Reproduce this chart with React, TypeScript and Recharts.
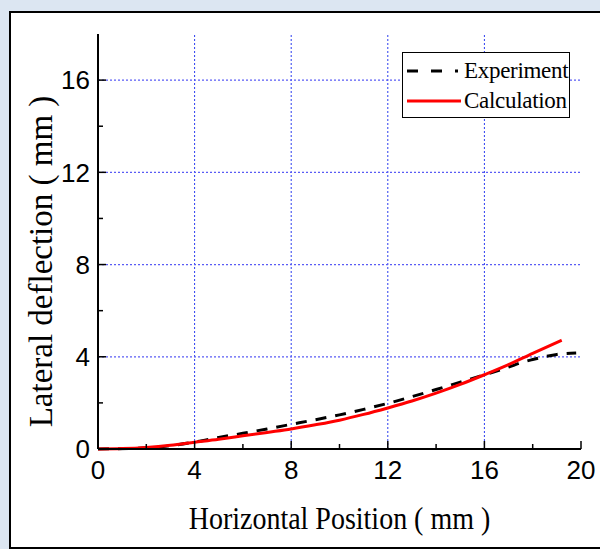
import React from 'react';
import { LineChart, Line, XAxis, YAxis, ReferenceLine, Legend } from 'recharts';

// calculation curve (red)
const calcX = [0, 1, 2, 3, 4, 5, 6, 7, 8, 9, 10, 11, 12, 13, 14, 15, 16, 17, 18, 19.2];
const calcY = [0, 0.02, 0.07, 0.16, 0.29, 0.42, 0.57, 0.72, 0.87, 1.05, 1.25, 1.5, 1.78, 2.08, 2.42, 2.8, 3.22, 3.66, 4.15, 4.72];

// experiment curve (black dashed)
const expX = [0, 2, 4, 5, 6, 7, 8, 9, 10, 11, 12, 13, 14, 15, 16, 17, 17.5, 18, 18.5, 19, 19.8];
const expY = [0, 0.05, 0.3, 0.5, 0.68, 0.87, 1.07, 1.27, 1.48, 1.72, 1.98, 2.27, 2.58, 2.9, 3.22, 3.55, 3.74, 3.88, 4.0, 4.1, 4.16];

const xTicks = [0, 2, 4, 6, 8, 10, 12, 14, 16, 18, 20];
const yTicks = [0, 2, 4, 6, 8, 10, 12, 14, 16, 18];
const gridX = [4, 8, 12, 16];
const gridY = [4, 8, 12, 16];

const calcData = calcX.map((x, i) => ({ x, y: calcY[i] }));
const expData = expX.map((x, i) => ({ x, y: expY[i] }));

const sans = '"Liberation Sans", Arial, sans-serif';
const serif = '"Liberation Serif", "Times New Roman", serif';

const isMajor = (v: number) => v % 4 === 0;

const BottomTick = (props: any) => {
  const { x, y, payload } = props;
  const major = isMajor(payload.value);
  return (
    <g>
      <line x1={x} y1={y} x2={x} y2={y - (major ? 8 : 5)} stroke="#000" strokeWidth={1.5} />
      {major && (
        <text x={x} y={y + 30} textAnchor="middle" fontFamily={sans} fontSize={26} fill="#000">
          {payload.value}
        </text>
      )}
    </g>
  );
};

const TopTick = (props: any) => {
  const { x, y, payload } = props;
  const major = isMajor(payload.value);
  return <line x1={x} y1={y} x2={x} y2={y + (major ? 8 : 5)} stroke="#000" strokeWidth={1.5} />;
};

const LeftTick = (props: any) => {
  const { x, y, payload } = props;
  if (payload.value > 16) return null;
  const major = isMajor(payload.value);
  return (
    <g>
      <line x1={x} y1={y} x2={x + (major ? 8 : 5)} y2={y} stroke="#000" strokeWidth={1.5} />
      {major && (
        <text x={x - 8} y={y} dy="0.36em" textAnchor="end" fontFamily={sans} fontSize={26} fill="#000">
          {payload.value}
        </text>
      )}
    </g>
  );
};

const RightTick = (props: any) => {
  const { x, y, payload } = props;
  if (payload.value > 16) return null;
  const major = isMajor(payload.value);
  return <line x1={x} y1={y} x2={x - (major ? 8 : 5)} y2={y} stroke="#000" strokeWidth={1.5} />;
};

const XTitle = (props: any) => {
  const { viewBox } = props;
  const cx = viewBox.x + viewBox.width / 2;
  const by = viewBox.y + viewBox.height - 20;
  return (
    <text
      x={0}
      y={0}
      transform={`translate(${cx}, ${by}) scale(1, 1.15)`}
      textAnchor="middle"
      fontFamily={serif}
      fontSize={28}
      fill="#000"
    >
      Horizontal Position ( mm )
    </text>
  );
};

const YTitle = (props: any) => {
  const { viewBox } = props;
  const cx = viewBox.x + 41;
  const cy = viewBox.y + viewBox.height / 2 + 20;
  return (
    <text
      x={cx}
      y={cy}
      transform={`rotate(-90, ${cx}, ${cy})`}
      textAnchor="middle"
      dominantBaseline="central"
      fontFamily={serif}
      fontSize={33}
      fill="#000"
    >
      Lateral deflection ( mm )
    </text>
  );
};

const LegendBox = () => (
  <div
    style={{
      width: 166,
      height: 64,
      border: '1px solid #000',
      background: '#fff',
      fontFamily: serif,
      fontSize: 23,
      color: '#000',
      boxSizing: 'content-box',
    }}
  >
    <div style={{ display: 'flex', alignItems: 'center', height: 30, marginTop: 3 }}>
      <svg width={58} height={10} style={{ marginLeft: 3 }}>
        <line x1={1} y1={5} x2={55} y2={5} stroke="#000" strokeWidth={3} strokeDasharray="11 13 11 13 3" />
      </svg>
      <span style={{ letterSpacing: -0.3 }}>Experiment</span>
    </div>
    <div style={{ display: 'flex', alignItems: 'center', height: 30 }}>
      <svg width={58} height={10} style={{ marginLeft: 3 }}>
        <line x1={1} y1={5} x2={55} y2={5} stroke="#ff0000" strokeWidth={3} />
      </svg>
      <span style={{ letterSpacing: -0.3 }}>Calculation</span>
    </div>
  </div>
);

export default function App() {
  return (
    <div
      style={{
        position: 'absolute',
        left: 0,
        top: 0,
        width: 600,
        height: 549,
        background: '#DCE6F2',
        overflow: 'hidden',
      }}
    >
      <div
        style={{
          position: 'absolute',
          left: 9,
          top: 11,
          width: 600,
          height: 534,
          background: '#fff',
          border: '2px solid #000',
        }}
      />
      <div style={{ position: 'absolute', left: 0, top: 0 }}>
        <LineChart width={600} height={549} margin={{ top: 34, right: 19, bottom: 0, left: 0 }}>
          <XAxis
            dataKey="x"
            type="number"
            domain={[0, 20]}
            ticks={xTicks}
            interval={0}
            height={100}
            tickSize={0}
            tickMargin={0}
            tickLine={false}
            tick={<BottomTick />}
            axisLine={{ stroke: '#000', strokeWidth: 2 }}
            allowDuplicatedCategory={false}
            label={<XTitle />}
          />
          <XAxis
            xAxisId="top"
            orientation="top"
            type="number"
            domain={[0, 20]}
            ticks={xTicks}
            interval={0}
            height={0}
            tickSize={0}
            tickMargin={0}
            tickLine={false}
            tick={<TopTick />}
            axisLine={{ stroke: '#000', strokeWidth: 2 }}
          />
          <YAxis
            type="number"
            domain={[0, 18]}
            ticks={yTicks}
            interval={0}
            width={98}
            tickSize={0}
            tickMargin={0}
            tickLine={false}
            tick={<LeftTick />}
            axisLine={{ stroke: '#000', strokeWidth: 2 }}
            label={<YTitle />}
          />
          <YAxis
            yAxisId="right"
            orientation="right"
            type="number"
            domain={[0, 18]}
            ticks={yTicks}
            interval={0}
            width={0}
            tickSize={0}
            tickMargin={0}
            tickLine={false}
            tick={<RightTick />}
            axisLine={{ stroke: '#000', strokeWidth: 2 }}
          />
          {gridX.map((v) => (
            <ReferenceLine key={'gx' + v} x={v} stroke="#2b3cf0" strokeWidth={1} strokeDasharray="2 2" />
          ))}
          {gridY.map((v) => (
            <ReferenceLine key={'gy' + v} y={v} stroke="#5a5cf5" strokeWidth={1.2} strokeDasharray="2 2" />
          ))}
          <Legend
            verticalAlign="middle"
            layout="horizontal"
            content={<LegendBox />}
            wrapperStyle={{ position: 'absolute', left: 402, top: 52, width: 168, height: 66 }}
          />
          <Line
            data={expData}
            dataKey="y"
            type="monotone"
            stroke="#000"
            strokeWidth={3}
            strokeDasharray="11 9"
            dot={false}
            isAnimationActive={false}
          />
          <Line
            data={calcData}
            dataKey="y"
            type="monotone"
            stroke="#ff0000"
            strokeWidth={3}
            dot={false}
            isAnimationActive={false}
          />
        </LineChart>
      </div>
    </div>
  );
}
